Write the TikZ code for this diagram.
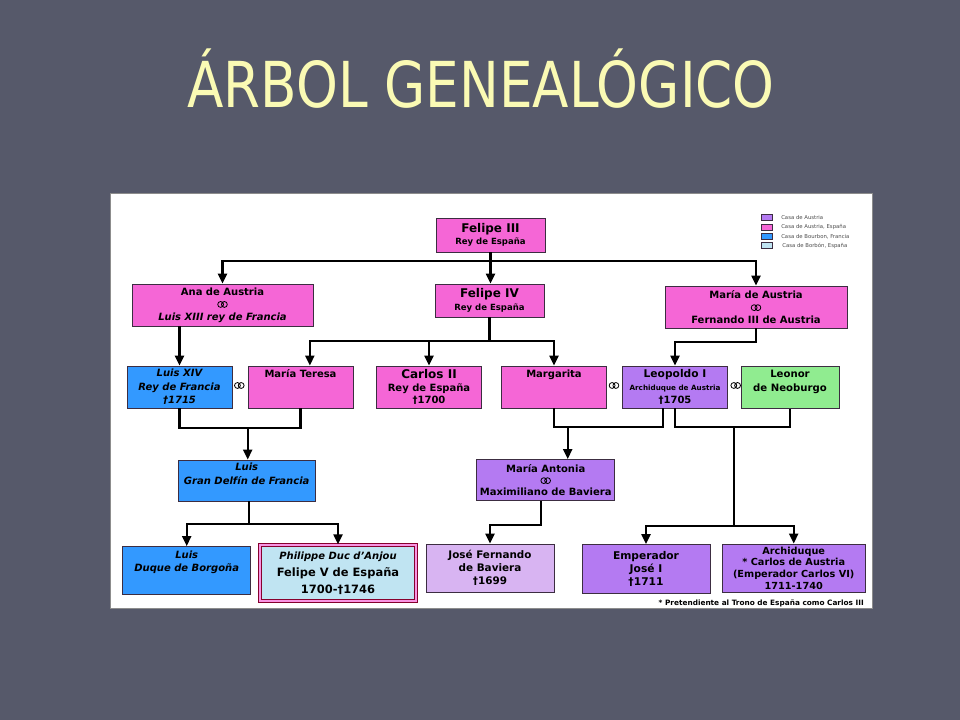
\documentclass[tikz,border=0pt]{standalone}
\usepackage{fontspec}
\usepackage{graphicx}
\setmainfont{DejaVu Sans}
\usetikzlibrary{arrows.meta}
\definecolor{fondo}{RGB}{86,89,106}
\definecolor{titulo}{RGB}{250,250,180}
\definecolor{rosa}{RGB}{245,102,214}
\definecolor{lila}{RGB}{180,122,242}
\definecolor{lilaclaro}{RGB}{216,180,242}
\definecolor{azul}{RGB}{51,153,255}
\definecolor{celeste}{RGB}{192,228,242}
\definecolor{verde}{RGB}{144,236,144}
\definecolor{borde}{RGB}{60,45,65}
\newcommand{\grande}{\fontsize{9}{11}\selectfont}
\newcommand{\medio}{\fontsize{8}{10}\selectfont}
\newcommand{\chico}{\fontsize{6.4}{8}\selectfont}
\newcommand{\diminuto}{\fontsize{5.4}{7}\selectfont}
\newcommand{\anillos}{\tikz[baseline=-0.6ex]{\draw[line width=0.6pt,black] (-1.4pt,0pt) circle (2.2pt) (1.4pt,0pt) circle (2.2pt);}}
\tikzstyle{caja} = [rectangle, draw=borde, line width=0.6pt, align=center, inner sep=1pt, font=\bfseries\fontsize{7.5}{9.5}\selectfont]
\tikzstyle{cursiva} = [font=\bfseries\itshape\fontsize{7.5}{10}\selectfont]
\tikzstyle{caja_rosa} = [caja, fill=rosa]
\tikzstyle{caja_lila} = [caja, fill=lila]
\tikzstyle{caja_lilaclaro} = [caja, fill=lilaclaro]
\tikzstyle{caja_azul} = [caja, fill=azul]
\tikzstyle{caja_celeste} = [caja, fill=celeste, draw=black!30!purple, double=rosa!70!white, double distance=0.8pt, line width=1pt]
\tikzstyle{caja_verde} = [caja, fill=verde]
\tikzstyle{fila3} = [minimum width=78.75pt, minimum height=31.5pt]
\tikzstyle{muesca} = [rectangle, draw=borde, line width=0.4pt, minimum width=8.5pt, minimum height=4.5pt, inner sep=0pt]
\tikzstyle{leyenda} = [anchor=west, inner sep=0pt, text=black!70, font=\fontsize{4}{5}\selectfont]
\tikzstyle{linea} = [line width=1.6pt, black]
\tikzstyle{flecha} = [linea, -{Triangle[width=6.75pt,length=7.5pt]}]
\begin{document}
\begin{tikzpicture}[x=0.75pt, y=-0.75pt]
			\useasboundingbox (0,0) rectangle (960,720);
			\fill[fondo] (0,0) rectangle (960,720);
			\node (titulo) at (481,108) [anchor=base, text=titulo, font=\fontsize{47.5}{50}\selectfont] {\scalebox{0.84}[1]{ÁRBOL GENEALÓGICO}};
			\draw[black!45, line width=0.5pt, fill=white] (110,193) rectangle (872,608);
			% leyenda
			\node (m1) at (767,217.7) [muesca, fill=lila] {};
			\node (m2) at (767,227) [muesca, fill=rosa] {};
			\node (m3) at (767,236.3) [muesca, fill=azul] {};
			\node (m4) at (767,245.7) [muesca, fill=celeste] {};
			\node (t1) at (781,217.7) [leyenda] {Casa de Austria};
			\node (t2) at (781,227) [leyenda] {Casa de Austria, España};
			\node (t3) at (781,236.3) [leyenda] {Casa de Bourbon, Francia};
			\node (t4) at (782,245.7) [leyenda] {Casa de Borbón, España};
			% personas
			\node (F3) at (490.5,235) [caja_rosa, minimum width=81.75pt, minimum height=25.5pt] {{\grande Felipe III}\\ {\chico Rey de España}};
			\node (Ana) at (222.5,305) [caja_rosa, minimum width=135.75pt, minimum height=31.5pt] {Ana de Austria\\ \anillos\\ {\itshape Luis XIII rey de Francia}};
			\node (F4) at (489.5,300.5) [caja_rosa, minimum width=81.75pt, minimum height=24.75pt] {{\grande Felipe IV}\\ {\chico Rey de España}};
			\node (MAus) at (756,307) [caja_rosa, minimum width=136.5pt, minimum height=31.5pt] {María de Austria\\ \anillos\\ Fernando III de Austria};
			\node (L14) at (179.5,387) [caja_azul, fila3, cursiva] {Luis XIV\\ Rey de Francia\\ †1715};
			\node (MT) at (300.5,387) [caja_rosa, fila3, text height=6pt, text depth=21pt] {María Teresa};
			\node (C2) at (429,387) [caja_rosa, fila3] {{\grande Carlos II}\\ Rey de España\\ †1700};
			\node (Mar) at (554,387) [caja_rosa, fila3, text height=6pt, text depth=21pt] {Margarita};
			\node (Leo) at (675,387) [caja_lila, fila3] {{\medio Leopoldo I}\\ {\diminuto Archiduque de Austria}\\ †1705};
			\node (Leon) at (790,387.5) [caja_verde, minimum width=73.5pt, minimum height=31.5pt, font=\bfseries\fontsize{7.6}{10.5}\selectfont, text depth=10pt] {Leonor\\ de Neoburgo};
			\node (r1) at (239.3,386) [inner sep=0pt] {\anillos};
			\node (r2) at (614,386) [inner sep=0pt] {\anillos};
			\node (r3) at (735.7,386) [inner sep=0pt] {\anillos};
			\node (GD) at (246.7,480.5) [caja_azul, minimum width=102.75pt, minimum height=30.75pt, cursiva, text depth=10pt] {Luis\\ Gran Delfín de Francia};
			\node (MAnt) at (545.7,480) [caja_lila, minimum width=103.5pt, minimum height=30.75pt, font=\bfseries\fontsize{7.5}{8.6}\selectfont] {María Antonia\\ \anillos\\ Maximiliano de Baviera};
			\node (LD) at (186.7,570.5) [caja_azul, minimum width=96pt, minimum height=36pt, cursiva, text depth=14pt] {Luis\\ Duque de Borgoña};
			\node (Phi) at (338,573) [caja_celeste, minimum width=117pt, minimum height=42pt, font=\bfseries\fontsize{8.6}{12.75}\selectfont] {{\itshape\fontsize{7.5}{8}\selectfont Philippe Duc d'Anjou}\\ Felipe V de España\\ 1700-†1746};
			\node (JF) at (490,568) [caja_lilaclaro, minimum width=96pt, minimum height=36pt, font=\bfseries\fontsize{7.8}{9.8}\selectfont] {José Fernando\\ de Baviera\\ †1699};
			\node (Emp) at (646,569) [caja_lila, minimum width=96pt, minimum height=36.75pt, font=\bfseries\fontsize{8}{10}\selectfont] {Emperador\\ José I\\ †1711};
			\node (Arch) at (793.7,568) [caja_lila, minimum width=107.25pt, minimum height=36pt, font=\bfseries\fontsize{7.3}{8.8}\selectfont] {Archiduque\\ * Carlos de Austria\\ (Emperador Carlos VI)\\ 1711-1740};
			\node (nota) at (864,603) [anchor=east, inner sep=0pt, font=\bfseries\fontsize{5.5}{6}\selectfont] {* Pretendiente al Trono de España como Carlos III};
			% uniones
			\coordinate (j1) at (490.5,261);
			\coordinate (j2) at (489.5,341);
			\coordinate (j3) at (756,342);
			\coordinate (j4) at (247.7,428);
			\coordinate (j5) at (249.3,524);
			\coordinate (j6) at (567.7,427);
			\coordinate (j7) at (734.3,427);
			\coordinate (j8) at (734.3,525.7);
			\coordinate (j9) at (541,525);
			\draw[linea] (F3.south) -- (j1);
			\draw[flecha] (j1) -| (Ana.north);
			\draw[flecha] (j1) -| (MAus.north);
			\draw[flecha] (j1) -- (j1 |- F4.north);
			\draw[linea] (F4.south) -- (j2);
			\draw[flecha] (j2) -| ([xshift=7pt]MT.north);
			\draw[flecha] (j2) -| (C2.north);
			\draw[flecha] (j2) -| (Mar.north);
			\draw[flecha] (Ana.south -| L14.north) -- (L14.north);
			\draw[flecha] (MAus.south) -- (j3) -| (Leo.north);
			\draw[linea] (L14.south) |- (j4) -| (MT.south);
			\draw[flecha] (j4) -- (j4 |- GD.north);
			\draw[linea] (GD.south -| j5) -- (j5);
			\draw[flecha] (j5) -| (LD.north);
			\draw[flecha] (j5) -| (Phi.north);
			\draw[linea] (Mar.south) |- (j6) -| ([xshift=-9pt]Leo.south);
			\draw[flecha] (j6) -- (j6 |- MAnt.north);
			\draw[linea] (Leo.south) |- (j7) -| (Leon.south);
			\draw[linea] (j7) -- (j8);
			\draw[flecha] (j8) -| (Emp.north);
			\draw[flecha] (j8) -| (Arch.north);
			\draw[flecha] (MAnt.south -| j9) -- (j9) -| (JF.north);
		\end{tikzpicture}
\end{document}
